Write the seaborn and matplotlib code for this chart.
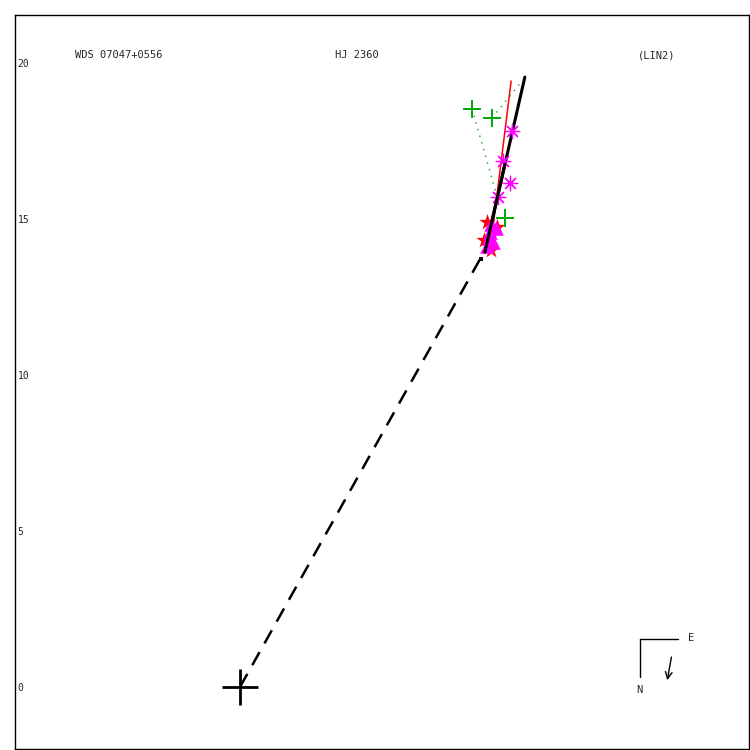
import matplotlib
matplotlib.use("Agg")
import matplotlib.pyplot as plt
import seaborn as sns

# --- data (arcsec) ---
orbit_x = [7.85, 8.49, 9.13]
orbit_y = [13.94, 16.75, 19.55]

node_x = [0.0, 7.95]
node_y = [0.0, 14.17]

red_x = [8.01, 8.69]
red_y = [13.94, 19.42]

# visual measures (green +) and the predicted points they connect to
vis_x = [7.44, 8.08, 8.49]
vis_y = [18.53, 18.24, 15.03]
vis_end_x = [8.27, 9.07, 8.40]
vis_end_y = [15.61, 19.46, 15.20]

# magenta asterisk measures
ast_x = [8.72, 8.43, 8.65, 8.27]
ast_y = [17.82, 16.86, 16.15, 15.71]

# clustered measures near the start of the arc
tri_x = [8.01, 8.11, 7.92, 8.21, 8.05, 7.98]
tri_y = [14.58, 14.26, 14.13, 14.71, 14.84, 14.40]
star_x = [7.92, 7.82, 8.04, 8.24]
star_y = [14.90, 14.33, 14.01, 14.74]

dot_x = [7.72]
dot_y = [13.72]

yticks = [0, 5, 10, 15, 20]

GREEN = "#00a800"
MAGENTA = "#ff00ff"
RED = "#ff0000"

sns.set_style("white")
plt.rcParams["font.family"] = ["DejaVu Sans Mono"]

fig = plt.figure(figsize=(7.5, 7.5), dpi=100)
ax = fig.add_axes([15 / 750, 1 - 749 / 750, 734 / 750, 734 / 750])

# line from primary and orbit arc
ax.plot(node_x, node_y, color="black", lw=1.8, ls=(0, (6, 4)))
ax.plot(red_x, red_y, color=RED, lw=1.1)
ax.plot(orbit_x, orbit_y, color="black", lw=2.2)

# residual lines
for x0, y0, x1, y1 in zip(vis_x, vis_y, vis_end_x, vis_end_y):
    ax.plot([x0, x1], [y0, y1], color=GREEN, lw=1, ls=(0, (1, 4)))

sns.scatterplot(x=vis_x, y=vis_y, ax=ax, marker="+", s=150, color=GREEN,
                linewidth=1.4, zorder=4)
sns.scatterplot(x=ast_x, y=ast_y, ax=ax, marker=(8, 2, 0), s=110, color=MAGENTA,
                linewidth=0.9, zorder=4)
sns.scatterplot(x=star_x, y=star_y, ax=ax, marker="*", s=150, color=RED,
                linewidth=0, zorder=3)
sns.scatterplot(x=tri_x, y=tri_y, ax=ax, marker="^", s=110, color=MAGENTA,
                linewidth=0, zorder=3)
ax.plot(orbit_x[:2], orbit_y[:2], color="black", lw=2.2, zorder=5)
sns.scatterplot(x=dot_x, y=dot_y, ax=ax, marker="s", s=6, color="black",
                linewidth=0, zorder=5)

# primary star
ax.plot([0], [0], marker="+", ms=26, mew=2, color="black", zorder=6)

ax.set_xlim((15 - 240) / 31.2, (749 - 240) / 31.2)
ax.set_ylim((687 - 749) / 31.2, (687 - 15) / 31.2)
ax.set_xticks([])
ax.set_yticks(yticks)
ax.set_yticklabels([str(t) for t in yticks])
ax.tick_params(axis="y", length=0, pad=-2, labelsize=7)
for lab in ax.get_yticklabels():
    lab.set_horizontalalignment("left")
for sp in ax.spines.values():
    sp.set_color("black")
    sp.set_linewidth(1)

# header texts
ax.text(0.082, 0.945, "WDS 07047+0556", transform=ax.transAxes, fontsize=7.5, va="center")
ax.text(0.436, 0.945, "HJ 2360", transform=ax.transAxes, fontsize=7.5, va="center")
ax.text(0.849, 0.945, "(LIN2)", transform=ax.transAxes, fontsize=7.5, va="center")

# compass
ax.plot([0.851, 0.903], [0.150, 0.150], transform=ax.transAxes, color="black", lw=1)
ax.plot([0.851, 0.851], [0.150, 0.098], transform=ax.transAxes, color="black", lw=1)
ax.text(0.917, 0.151, "E", transform=ax.transAxes, fontsize=7.5, va="center")
ax.text(0.847, 0.080, "N", transform=ax.transAxes, fontsize=7.5, va="center")
ax.annotate("", xy=(0.888, 0.090), xytext=(0.895, 0.129), xycoords="axes fraction",
            arrowprops=dict(arrowstyle="->", color="black", lw=1, mutation_scale=12))

fig.savefig("out.png", dpi=100)
